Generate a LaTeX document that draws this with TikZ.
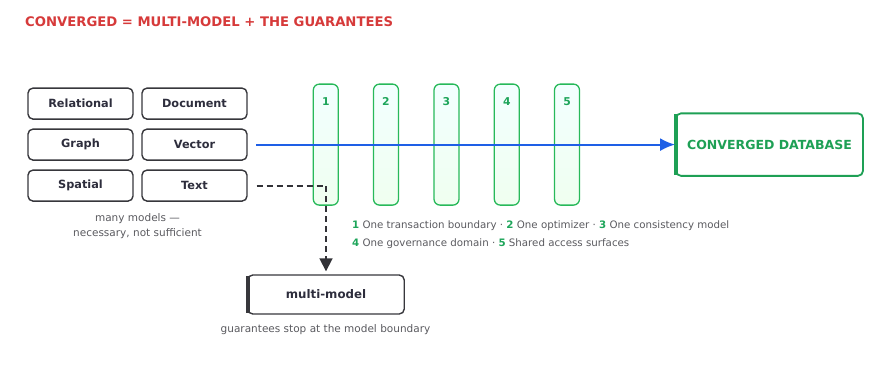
\documentclass[tikz,border=0pt]{standalone}
\usepackage{fontspec}
\setmainfont{DejaVu Sans}
\usetikzlibrary{arrows.meta}
\definecolor{titlered}{RGB}{214,58,58}
\definecolor{boxgray}{RGB}{55,55,60}
\definecolor{textdark}{RGB}{45,45,60}
\definecolor{capgray}{RGB}{90,90,95}
\definecolor{pgreen}{RGB}{40,185,90}
\definecolor{dbgreen}{RGB}{30,160,85}
\definecolor{numgreen}{RGB}{30,165,90}
\definecolor{arrblue}{RGB}{30,95,230}
\definecolor{dashgray}{RGB}{50,50,55}
\begin{document}
\begin{tikzpicture}[x=1pt,y=-1pt,
  modelbox/.style={draw=boxgray, line width=1.4pt, rounded corners=5pt, minimum width=105pt, minimum height=31pt, inner sep=0pt, font=\fontsize{11.3}{13}\selectfont\bfseries, text=textdark, fill=white},
  pillar/.style={draw=pgreen, line width=1.3pt, rounded corners=6pt, minimum width=25pt, minimum height=121pt, inner sep=0pt, top color=cyan!5, bottom color=green!6},
  pnum/.style={font=\fontsize{10.8}{12}\selectfont\bfseries, text=numgreen, inner sep=0pt},
  caption/.style={font=\fontsize{10.5}{13}\selectfont, text=capgray, inner sep=0pt, align=center},
  legend/.style={font=\fontsize{10.25}{13}\selectfont, text=capgray, inner sep=0pt, anchor=west},
  bluearrow/.style={draw=arrblue, line width=2.2pt, -{Latex[length=15pt,width=13pt]}},
  dashline/.style={draw=dashgray, line width=1.8pt, dash pattern=on 6pt off 4pt, -{Triangle[length=13pt,width=13pt]}}
]
\useasboundingbox (0,0) rectangle (894,386);

% title
\node[anchor=west, inner sep=0pt, font=\fontsize{13.2}{15}\selectfont\bfseries, text=titlered] (title) at (25,22) {CONVERGED = MULTI-MODEL + THE GUARANTEES};

% model boxes
\node[modelbox] (rel) at (80.5,103.6) {Relational};
\node[modelbox] (doc) at (194.5,103.6) {Document};
\node[modelbox] (gra) at (80.5,144.6) {Graph};
\node[modelbox] (vec) at (194.5,144.6) {Vector};
\node[modelbox] (spa) at (80.5,185.6) {Spatial};
\node[modelbox] (txt) at (194.5,185.6) {Text};

\node[caption] (cap1) at (137.5,219) {many models —};
\node[caption] (cap2) at (137.5,234) {necessary, not sufficient};

% pillars
\foreach \i/\x in {1/325.8,2/386,3/446.5,4/506.8,5/567} {
  \node[pillar] (p\i) at (\x,144.6) {};
  \node[pnum] (n\i) at (\x,101.7) {\i};
}

% converged database
\node[draw=dbgreen, line width=1.8pt, rounded corners=5pt, minimum width=187pt, minimum height=62.5pt, inner sep=0pt, fill=white, font=\fontsize{12.5}{14}\selectfont\bfseries, text=dbgreen] (db) at (769.5,144.6) {CONVERGED DATABASE};
\draw[dbgreen, line width=4pt] ([xshift=1.2pt,yshift=-2pt]db.north west) -- ([xshift=1.2pt,yshift=2pt]db.south west);

% blue arrow
\coordinate (bstart) at (256,144.6);
\draw[bluearrow] (bstart) -- (db.west);

% multi-model box
\node[draw=boxgray, line width=1.4pt, rounded corners=5pt, minimum width=156.5pt, minimum height=39pt, inner sep=0pt, fill=white, font=\fontsize{11.8}{13}\selectfont\bfseries, text=textdark] (mm) at (326,294.5) {multi-model};
\draw[boxgray, line width=4pt] ([xshift=1.2pt,yshift=-2pt]mm.north west) -- ([xshift=1.2pt,yshift=2pt]mm.south west);
\node[caption] (cap3) at (325.5,329.3) {guarantees stop at the model boundary};

% dashed connector
\draw[dashline] ([xshift=9pt]txt.east) -- (txt.east -| mm.north) -- ([yshift=3pt]mm.north);

% legend
\node[legend] (leg1) at (352,225.7) {\textcolor{numgreen}{\bfseries 1} One transaction boundary · \textcolor{numgreen}{\bfseries 2} One optimizer · \textcolor{numgreen}{\bfseries 3} One consistency model};
\node[legend] (leg2) at (352,243.3) {\textcolor{numgreen}{\bfseries 4} One governance domain · \textcolor{numgreen}{\bfseries 5} Shared access surfaces};
\end{tikzpicture}
\end{document}
